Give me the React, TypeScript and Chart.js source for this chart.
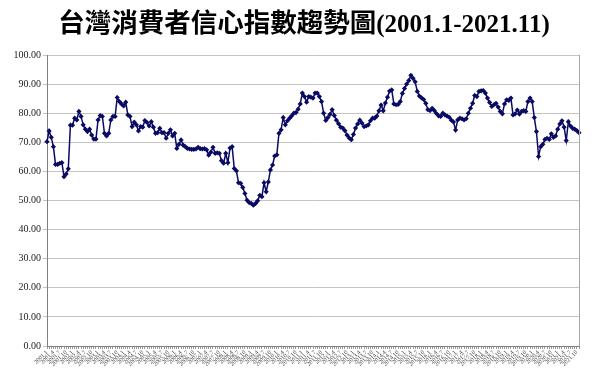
import React, { useEffect, useRef } from "react";
import { Chart, registerables } from "chart.js";

Chart.register(...registerables);

const titleMain = "台灣消費者信心指數趨勢圖";
const titleRange = "(2001.1-2021.11)";

const years = [2001, 2002, 2003, 2004, 2005, 2006, 2007, 2008, 2009, 2010, 2011, 2012, 2013, 2014, 2015, 2016, 2017, 2018, 2019, 2020, 2021];

const cci2001 = [70.2, 73.9, 71.7, 68.5, 62.4, 62.4, 62.8, 63.0, 58.2, 59.1, 60.9, 75.9];
const cci2002 = [75.9, 78.3, 77.7, 80.6, 78.9, 76.0, 74.5, 73.7, 74.5, 72.5, 71.1, 71.1];
const cci2003 = [77.7, 79.2, 78.9, 73.1, 72.2, 73.1, 77.7, 78.9, 78.9, 85.4, 84.0, 83.2];
const cci2004 = [82.5, 83.8, 79.4, 78.9, 75.4, 76.9, 76.0, 73.9, 75.4, 75.2, 77.5, 76.8];
const cci2005 = [75.6, 77.1, 75.2, 73.1, 73.3, 74.8, 73.3, 73.3, 71.4, 73.1, 74.3, 72.2];
const cci2006 = [73.1, 67.9, 69.3, 70.8, 69.0, 68.5, 67.9, 67.7, 67.6, 67.6, 67.7, 68.3];
const cci2007 = [67.8, 67.7, 67.8, 67.4, 65.6, 66.6, 68.3, 66.2, 66.4, 66.2, 63.7, 62.8];
const cci2008 = [66.2, 63.0, 68.0, 68.5, 61.0, 60.2, 56.1, 55.9, 54.5, 52.4, 50.1, 49.3];
const cci2009 = [49.0, 48.4, 49.0, 49.9, 51.8, 51.3, 56.1, 53.0, 56.4, 60.5, 62.2, 65.3];
const cci2010 = [65.7, 73.1, 74.3, 78.5, 76.0, 77.4, 78.3, 79.1, 80.0, 80.2, 81.4, 83.2];
const cci2011 = [86.9, 85.7, 83.8, 85.7, 85.5, 85.2, 86.9, 86.9, 85.7, 84.0, 80.0, 77.5];
const cci2012 = [78.5, 79.6, 81.2, 79.2, 77.6, 76.4, 75.2, 74.9, 74.0, 72.5, 71.5, 70.9];
const cci2013 = [72.7, 74.9, 76.3, 77.6, 76.6, 75.4, 75.6, 76.0, 77.4, 78.3, 78.3, 79.0];
const cci2014 = [80.8, 82.8, 80.8, 83.5, 85.5, 87.6, 88.0, 83.2, 82.9, 83.0, 84.0, 86.8];
const cci2015 = [88.5, 90.0, 91.2, 93.0, 92.0, 90.8, 87.5, 85.9, 85.3, 84.7, 83.4, 81.2];
const cci2016 = [80.9, 81.7, 80.9, 79.9, 79.1, 78.9, 80.0, 79.4, 79.0, 78.6, 77.6, 77.0];
const cci2017 = [74.2, 77.7, 78.3, 78.1, 77.7, 78.1, 80.0, 81.7, 83.4, 86.1, 85.7, 87.5];
const cci2018 = [87.7, 87.8, 86.9, 85.2, 83.7, 82.3, 82.9, 83.4, 82.1, 80.6, 79.8, 83.2];
const cci2019 = [84.6, 84.4, 85.2, 79.4, 79.8, 81.1, 79.7, 80.6, 80.9, 80.6, 84.0, 85.2];
const cci2020 = [84.0, 78.5, 73.7, 65.1, 68.5, 69.3, 71.0, 71.4, 71.0, 72.9, 71.7, 72.2];
const cci2021 = [74.5, 76.3, 77.4, 75.2, 70.6, 77.1, 75.6, 74.8, 74.5, 74.0, 73.3];

const yearlySeries = [
  cci2001, cci2002, cci2003, cci2004, cci2005, cci2006, cci2007,
  cci2008, cci2009, cci2010, cci2011, cci2012, cci2013, cci2014,
  cci2015, cci2016, cci2017, cci2018, cci2019, cci2020, cci2021,
];

const values: number[] = [];
const labels: string[] = [];
yearlySeries.forEach((arr, yi) => {
  arr.forEach((v, mi) => {
    values.push(v);
    labels.push(`${years[yi]}.${mi + 1}`);
  });
});

const yTickValues = [0, 10, 20, 30, 40, 50, 60, 70, 80, 90, 100];

const framePlugin = {
  id: "plotFrame",
  afterDraw(chart: any) {
    const { ctx, chartArea } = chart;
    ctx.save();
    ctx.strokeStyle = "#a6a6a6";
    ctx.lineWidth = 1;
    ctx.beginPath();
    ctx.moveTo(Math.round(chartArea.right) + 0.5, chartArea.top);
    ctx.lineTo(Math.round(chartArea.right) + 0.5, chartArea.bottom);
    ctx.stroke();
    ctx.restore();
  },
};

const titlePlugin = {
  id: "mixedTitle",
  afterDraw(chart: any) {
    const ctx = chart.ctx;
    ctx.save();
    const fontMain = 'bold 26.5px "Noto Sans CJK TC", sans-serif';
    const fontRange = 'bold 25px "Liberation Serif", serif';
    ctx.font = fontMain;
    const w1 = ctx.measureText(titleMain).width;
    ctx.font = fontRange;
    const w2 = ctx.measureText(titleRange).width;
    const x0 = 304 - (w1 + w2) / 2;
    const baseY = 32;
    ctx.fillStyle = "#000";
    ctx.textBaseline = "alphabetic";
    ctx.textAlign = "left";
    ctx.font = fontMain;
    ctx.fillText(titleMain, x0, baseY);
    ctx.font = fontRange;
    ctx.fillText(titleRange, x0 + w1, baseY);
    ctx.restore();
  },
};

export default function App() {
  const canvasRef = useRef<HTMLCanvasElement | null>(null);

  useEffect(() => {
    document.body.style.margin = "0";
    const canvas = canvasRef.current;
    if (!canvas) return;
    const chart = new Chart(canvas, {
      type: "line",
      data: {
        labels,
        datasets: [
          {
            label: "消費者信心指數",
            data: values,
            borderColor: "#0a0a64",
            backgroundColor: "#0a0a64",
            borderWidth: 1.5,
            pointStyle: "rectRot",
            pointRadius: 2.6,
            pointBorderWidth: 0,
            pointBackgroundColor: "#0a0a64",
            tension: 0,
          },
        ],
      },
      options: {
        animation: false,
        responsive: false,
        layout: { padding: { left: 0, right: 21, top: 55, bottom: 0 } },
        plugins: {
          legend: { display: false },
          tooltip: { enabled: false },
          title: { display: false },
        },
        scales: {
          x: {
            type: "category",
            offset: false,
            grid: {
              display: true,
              drawOnChartArea: false,
              drawTicks: true,
              tickLength: 3,
              color: "#9a9a9a",
            },
            border: { color: "#808080" },
            ticks: {
              autoSkip: false,
              minRotation: 45,
              maxRotation: 45,
              padding: 0,
              color: "#444",
              font: { size: 6, family: '"Liberation Serif", serif' },
              callback: (_v: any, i: number) => (i % 3 === 0 ? labels[i] : ""),
            },
            afterFit: (s: any) => {
              s.height = 25;
            },
          },
          y: {
            min: 0,
            max: 100,
            afterBuildTicks: (s: any) => {
              s.ticks = yTickValues.map((v) => ({ value: v }));
            },
            grid: { color: "#c4c4c4", tickLength: 4, drawTicks: true },
            border: { color: "#808080" },
            ticks: {
              padding: 2,
              color: "#222",
              font: { size: 10, family: '"Liberation Serif", serif' },
              callback: (v: any) => Number(v).toFixed(2),
            },
            afterFit: (s: any) => {
              s.width = 47;
            },
          },
        },
      },
      plugins: [framePlugin, titlePlugin],
    });
    return () => chart.destroy();
  }, []);

  return (
    <div style={{ width: 600, height: 371, background: "#fff" }}>
      <canvas ref={canvasRef} width={600} height={371} />
    </div>
  );
}
